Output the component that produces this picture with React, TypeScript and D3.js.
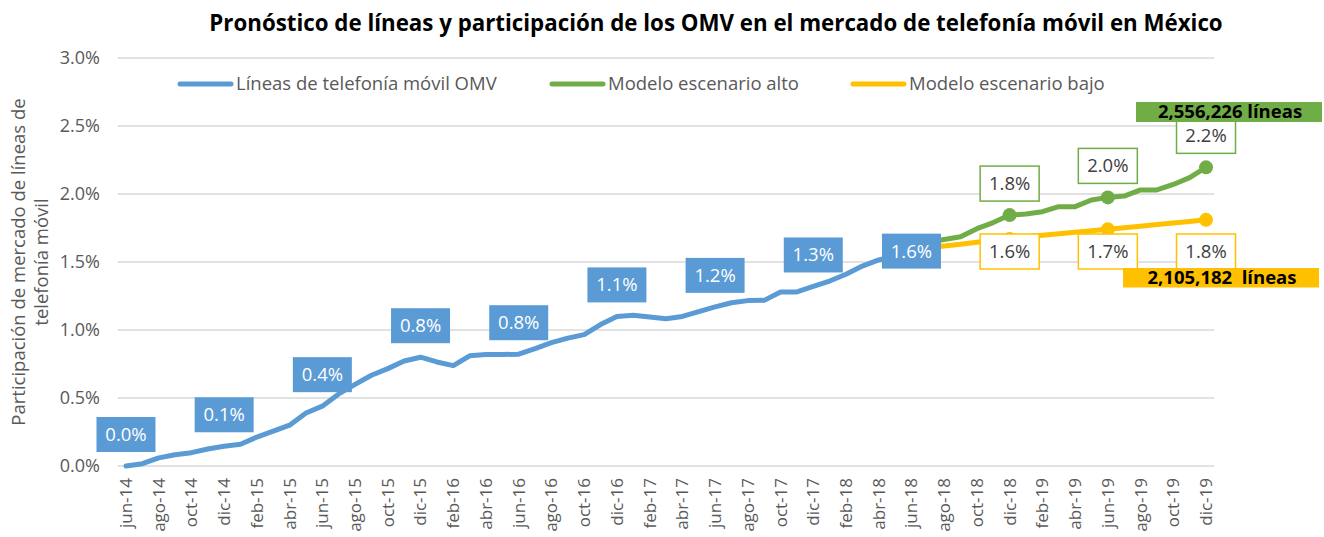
import React from "react";
import * as d3 from "d3";

const categories = [
  "jun-14","jul-14","ago-14","sep-14","oct-14","nov-14","dic-14",
  "ene-15","feb-15","mar-15","abr-15","may-15","jun-15","jul-15","ago-15","sep-15","oct-15","nov-15","dic-15",
  "ene-16","feb-16","mar-16","abr-16","may-16","jun-16","jul-16","ago-16","sep-16","oct-16","nov-16","dic-16",
  "ene-17","feb-17","mar-17","abr-17","may-17","jun-17","jul-17","ago-17","sep-17","oct-17","nov-17","dic-17",
  "ene-18","feb-18","mar-18","abr-18","may-18","jun-18","jul-18","ago-18","sep-18","oct-18","nov-18","dic-18",
  "ene-19","feb-19","mar-19","abr-19","may-19","jun-19","jul-19","ago-19","sep-19","oct-19","nov-19","dic-19",
];

// Líneas de telefonía móvil OMV (jun-14 .. jun-18), % of market
const omvValues = [
  0.0, 0.017, 0.06, 0.083, 0.098, 0.125, 0.145, 0.16, 0.213, 0.257, 0.3, 0.39, 0.44,
  0.53, 0.6, 0.667, 0.716, 0.772, 0.8, 0.765, 0.738, 0.81, 0.82, 0.82, 0.822,
  0.863, 0.907, 0.94, 0.966, 1.04, 1.1, 1.108, 1.095, 1.083, 1.1, 1.135, 1.17,
  1.2, 1.216, 1.218, 1.28, 1.28, 1.32, 1.36, 1.41, 1.47, 1.515, 1.545, 1.58,
];
// Modelo escenario alto (jun-18 .. dic-19)
const highValues = [
  1.58, 1.645, 1.665, 1.685, 1.745, 1.79, 1.845, 1.853, 1.87, 1.907, 1.907, 1.956,
  1.975, 1.985, 2.03, 2.03, 2.07, 2.12, 2.196,
];
// Modelo escenario bajo (jun-18 .. dic-19)
const lowValues = [
  1.58, 1.605, 1.618, 1.63, 1.645, 1.66, 1.67, 1.685, 1.696, 1.707, 1.718, 1.729,
  1.74, 1.752, 1.763, 1.775, 1.786, 1.798, 1.81,
];
const forecastStart = "jun-18";

const omvLabelCats = ["jun-14","dic-14","jun-15","dic-15","jun-16","dic-16","jun-17","dic-17","jun-18"];
const omvLabelTexts = ["0.0%","0.1%","0.4%","0.8%","0.8%","1.1%","1.2%","1.3%","1.6%"];
const scenarioLabelCats = ["dic-18","jun-19","dic-19"];
const highLabelTexts = ["1.8%","2.0%","2.2%"];
const lowLabelTexts = ["1.6%","1.7%","1.8%"];
const yTicks = [0, 0.5, 1, 1.5, 2, 2.5, 3];

const title = "Pronóstico de líneas y participación de los OMV en el mercado de telefonía móvil en México";
const legendNames = ["Líneas de telefonía móvil OMV", "Modelo escenario alto", "Modelo escenario bajo"];
const highTotal = "2,556,226 líneas";
const lowTotal = "2,105,182  líneas";
const yTitle1 = "Participación de mercado de líneas de";
const yTitle2 = "telefonía móvil";

const BLUE = "#5B9BD5";
const GREEN = "#70AD47";
const YELLOW = "#FFC000";
const GREY = "#595959";
const FONT = "'Open Sans', 'DejaVu Sans', sans-serif";

export default function App() {
  const W = 1324, H = 537;
  const x = d3.scaleBand<string>().domain(categories).range([117.8, 1214.2]);
  const bw = x.bandwidth();
  const cx = (c: string) => (x(c) as number) + bw / 2;
  const y = d3.scaleLinear().domain([0, 3]).range([466, 58]);

  const startIdx = categories.indexOf(forecastStart);
  const omvPts = omvValues.map((v, i) => [cx(categories[i]), y(v)] as [number, number]);
  const highPts = highValues.map((v, i) => [cx(categories[startIdx + i]), y(v)] as [number, number]);
  const lowPts = lowValues.map((v, i) => [cx(categories[startIdx + i]), y(v)] as [number, number]);
  const line = d3.line();

  const valAt = (arr: number[], offset: number, c: string) => arr[categories.indexOf(c) - offset];

  const boxW = 59, boxH = 35;
  const lowBoxTop = y(1.5) - 28;
  const LBL = 18.5;

  const xLabelCats = categories.filter((_, i) => i % 2 === 0);

  return (
    <svg width={W} height={H} style={{ position: "absolute", left: 0, top: 0, fontFamily: FONT }}>
      <rect width={W} height={H} fill="#fff" />
      <text x={716} y={31} textAnchor="middle" fontWeight="bold" fontSize={22.3} fill="#000">{title}</text>

      {yTicks.map((t) => (
        <g key={t}>
          <line x1={117.8} x2={1214.2} y1={y(t)} y2={y(t)} stroke="#D9D9D9" strokeWidth={1.5} />
          <text x={100} y={y(t)} dy="0.35em" textAnchor="end" fontSize={18} fill={GREY}>
            {t.toFixed(1) + "%"}
          </text>
        </g>
      ))}

      <g transform={`translate(24,${y(1.5)}) rotate(-90)`}>
        <text x={0} y={1} textAnchor="middle" fontSize={18.5} fill={GREY}>{yTitle1}</text>
        <text x={0} y={24} textAnchor="middle" fontSize={18.5} fill={GREY}>{yTitle2}</text>
      </g>

      {xLabelCats.map((c) => (
        <text key={c} transform={`translate(${cx(c)},478) rotate(-90)`} dy="0.35em" textAnchor="end" fontSize={17} fill={GREY}>
          {c}
        </text>
      ))}

      {/* legend */}
      {[BLUE, GREEN, YELLOW].map((col, i) => {
        const lx = [178, 550, 851][i];
        return (
          <g key={col}>
            <line x1={lx + 2} x2={lx + 53} y1={84} y2={84} stroke={col} strokeWidth={5} strokeLinecap="round" />
            <text x={lx + 58} y={84} dy="0.35em" fontSize={18.5} fill={GREY}>{legendNames[i]}</text>
          </g>
        );
      })}

      <path d={line(highPts) || ""} fill="none" stroke={GREEN} strokeWidth={5} strokeLinejoin="round" strokeLinecap="round" />
      <path d={line(lowPts) || ""} fill="none" stroke={YELLOW} strokeWidth={5} strokeLinejoin="round" strokeLinecap="round" />
      <path d={line(omvPts) || ""} fill="none" stroke={BLUE} strokeWidth={5} strokeLinejoin="round" strokeLinecap="round" />

      {scenarioLabelCats.map((c) => (
        <g key={c}>
          <circle cx={cx(c)} cy={y(valAt(highValues, startIdx, c))} r={7} fill={GREEN} />
          <circle cx={cx(c)} cy={y(valAt(lowValues, startIdx, c))} r={7} fill={YELLOW} />
        </g>
      ))}

      {omvLabelCats.map((c, i) => {
        const px = cx(c);
        const py = y(valAt(omvValues, 0, c));
        const last = i === omvLabelCats.length - 1;
        const top = last ? py - boxH / 2 : py - 14 - boxH;
        return (
          <g key={c}>
            <rect x={px - 29.5} y={top} width={boxW} height={boxH} fill={BLUE} />
            <text x={px} y={top + boxH / 2} dy="0.35em" textAnchor="middle" fontSize={LBL} fill="#fff">{omvLabelTexts[i]}</text>
          </g>
        );
      })}

      {scenarioLabelCats.map((c, i) => {
        const px = cx(c);
        const py = y(valAt(highValues, startIdx, c));
        const top = py - 14 - boxH;
        return (
          <g key={c}>
            <rect x={px - 29.5} y={top} width={boxW} height={boxH} fill="#fff" stroke={GREEN} strokeWidth={1.5} />
            <text x={px} y={top + boxH / 2} dy="0.35em" textAnchor="middle" fontSize={LBL} fill="#404040">{highLabelTexts[i]}</text>
          </g>
        );
      })}
      {scenarioLabelCats.map((c, i) => {
        const px = cx(c);
        return (
          <g key={c}>
            <rect x={px - 29.5} y={lowBoxTop} width={boxW} height={boxH} fill="#fff" stroke={YELLOW} strokeWidth={1.5} />
            <text x={px} y={lowBoxTop + boxH / 2} dy="0.35em" textAnchor="middle" fontSize={LBL} fill="#404040">{lowLabelTexts[i]}</text>
          </g>
        );
      })}

      <rect x={1136} y={102} width={186} height={20} fill={GREEN} />
      <text x={1230} y={112} dy="0.35em" textAnchor="middle" fontWeight="bold" fontSize={18.5} fill="#000">{highTotal}</text>
      <rect x={1123} y={268} width={196} height={19.5} fill={YELLOW} />
      <text x={1222} y={278} dy="0.35em" textAnchor="middle" fontWeight="bold" fontSize={18.5} fill="#000" style={{ whiteSpace: "pre" }}>{lowTotal}</text>
    </svg>
  );
}
